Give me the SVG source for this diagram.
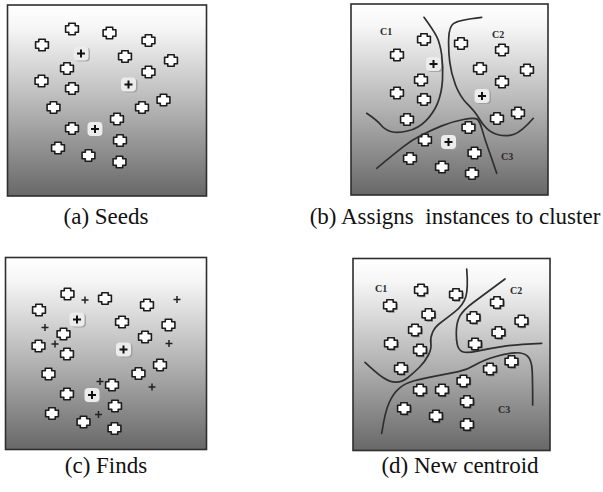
<svg xmlns="http://www.w3.org/2000/svg" xmlns:xlink="http://www.w3.org/1999/xlink" width="603" height="492" viewBox="0 0 603 492">
  <style>
    .frame { stroke: #2e2e2e; stroke-width: 1.6; fill: url(#panelFill); }
    .pt { fill: #ffffff; stroke: #1c1c1c; stroke-width: 1.6; stroke-linejoin: round; }
    .shadow { fill: #3a3a3a; stroke: none; opacity: 0.55; }
    .cross { stroke: #111; stroke-width: 2; stroke-linecap: butt; }
    .mini { stroke: #222; stroke-width: 1.5; }
    .cbox { fill: #ececec; stroke: none; }
    .cshadow { fill: #9a9a9a; stroke: none; opacity: 0.8; }
    .boundary { fill: none; stroke: #2f2f2f; stroke-width: 1.7; stroke-linecap: round; stroke-linejoin: round; }
    .clabel { font-family: "Liberation Serif", "Times New Roman", serif; font-size: 10px; font-weight: bold; fill: #2a2a2a; }
    .caption { font-family: "Liberation Serif", "Times New Roman", serif; font-size: 23px; fill: #111; text-anchor: middle; white-space: pre; }
  </style>
  <defs>
    <linearGradient id="panelFill" x1="0" y1="0" x2="0" y2="1">
      <stop offset="0" stop-color="#ffffff"/>
      <stop offset="0.12" stop-color="#f6f6f6"/>
      <stop offset="0.55" stop-color="#b2b2b2"/>
      <stop offset="1" stop-color="#686868"/>
    </linearGradient>
    <!-- data instance: small rounded cross -->
    <path id="blob" d="M-3.2,-5.8 H3.2 V-3.2 H6.4 V3.2 H3.2 V5.8 H-3.2 V3.2 H-6.4 V-3.2 H-3.2 Z"/>
    <g id="pt"><use xlink:href="#blob" class="pt"/></g>
    <g id="ptS"><use xlink:href="#blob" class="shadow" x="1.3" y="1.4"/><use xlink:href="#blob" class="pt"/></g>
    <!-- cluster centroid: grey pad with black plus -->
    <g id="cen">
      <rect x="-6" y="-6" width="15" height="14" rx="4" class="cshadow"/>
      <rect x="-7.5" y="-7" width="15" height="14" rx="4" class="cbox"/>
      <path d="M-4,0 H4 M0,-4 V4" class="cross"/>
    </g>
    <!-- candidate position marker -->
    <path id="mini" d="M-3.5,0 H3.5 M0,-3.5 V3.5" class="mini"/>
  </defs>

  <rect width="603" height="492" fill="#ffffff"/>

  <!-- (a) Seeds -->
  <g id="panel-a">
    <rect x="7.5" y="5" width="199" height="191" class="frame"/>
    <use xlink:href="#pt" x="72" y="29"/>
    <use xlink:href="#pt" x="109.5" y="33"/>
    <use xlink:href="#pt" x="42" y="45"/>
    <use xlink:href="#pt" x="148.5" y="40.5"/>
    <use xlink:href="#cen" x="81" y="53.5"/>
    <use xlink:href="#pt" x="125" y="56.5"/>
    <use xlink:href="#pt" x="171" y="60.5"/>
    <use xlink:href="#pt" x="67" y="68.5"/>
    <use xlink:href="#pt" x="148.5" y="72"/>
    <use xlink:href="#pt" x="41.5" y="81"/>
    <use xlink:href="#cen" x="128.5" y="84.5"/>
    <use xlink:href="#pt" x="72" y="88.5"/>
    <use xlink:href="#pt" x="53.5" y="107.5"/>
    <use xlink:href="#pt" x="163.5" y="100"/>
    <use xlink:href="#pt" x="142" y="107.5"/>
    <use xlink:href="#pt" x="117" y="119"/>
    <use xlink:href="#pt" x="72" y="128.5"/>
    <use xlink:href="#cen" x="95" y="129"/>
    <use xlink:href="#pt" x="120" y="140.5"/>
    <use xlink:href="#pt" x="58" y="148"/>
    <use xlink:href="#pt" x="88.5" y="155.5"/>
    <use xlink:href="#pt" x="119.5" y="162"/>
  </g>

  <!-- (b) Assigns instances to cluster -->
  <g id="panel-b">
    <rect x="351" y="4" width="197" height="191" class="frame"/>
    <text x="380" y="35" class="clabel">C1</text>
    <text x="492" y="38" class="clabel">C2</text>
    <text x="501" y="160" class="clabel">C3</text>
    <use xlink:href="#pt" x="424" y="39.5"/>
    <use xlink:href="#pt" x="397" y="55"/>
    <use xlink:href="#pt" x="461" y="43.5"/>
    <use xlink:href="#pt" x="502" y="50"/>
    <use xlink:href="#cen" x="433.5" y="64"/>
    <use xlink:href="#pt" x="480" y="68.5"/>
    <use xlink:href="#pt" x="527" y="70"/>
    <use xlink:href="#pt" x="421" y="80"/>
    <use xlink:href="#pt" x="502" y="82"/>
    <use xlink:href="#pt" x="397" y="93"/>
    <use xlink:href="#pt" x="424" y="99.5"/>
    <use xlink:href="#cen" x="482" y="96"/>
    <use xlink:href="#pt" x="407" y="119.5"/>
    <use xlink:href="#pt" x="497" y="118.5"/>
    <use xlink:href="#pt" x="518" y="113"/>
    <use xlink:href="#pt" x="468.5" y="127.5"/>
    <use xlink:href="#pt" x="425" y="140"/>
    <use xlink:href="#cen" x="448.5" y="142"/>
    <use xlink:href="#pt" x="474.5" y="153"/>
    <use xlink:href="#pt" x="410" y="158.5"/>
    <use xlink:href="#pt" x="442" y="167"/>
    <use xlink:href="#pt" x="472" y="173.5"/>
  </g>

  <!-- (c) Finds -->
  <g id="panel-c">
    <rect x="5.5" y="257.5" width="201" height="192" class="frame"/>
    <use xlink:href="#pt" x="67.5" y="294"/>
    <use xlink:href="#mini" x="85" y="300"/>
    <use xlink:href="#pt" x="105" y="298.5"/>
    <use xlink:href="#pt" x="147" y="305"/>
    <use xlink:href="#mini" x="177" y="299.5"/>
    <use xlink:href="#pt" x="39" y="310"/>
    <use xlink:href="#cen" x="77" y="319.5"/>
    <use xlink:href="#pt" x="122" y="322"/>
    <use xlink:href="#pt" x="168.5" y="325"/>
    <use xlink:href="#mini" x="45" y="327.5"/>
    <use xlink:href="#pt" x="63.5" y="334"/>
    <use xlink:href="#pt" x="145" y="337"/>
    <use xlink:href="#mini" x="169" y="343.5"/>
    <use xlink:href="#pt" x="38.5" y="346"/>
    <use xlink:href="#mini" x="55" y="344"/>
    <use xlink:href="#pt" x="67" y="354"/>
    <use xlink:href="#cen" x="123.5" y="349.5"/>
    <use xlink:href="#pt" x="160" y="365"/>
    <use xlink:href="#pt" x="138.5" y="373.5"/>
    <use xlink:href="#pt" x="48.5" y="374"/>
    <use xlink:href="#mini" x="100" y="381.5"/>
    <use xlink:href="#pt" x="112" y="385"/>
    <use xlink:href="#mini" x="152" y="387"/>
    <use xlink:href="#pt" x="67" y="394"/>
    <use xlink:href="#cen" x="92" y="395"/>
    <use xlink:href="#pt" x="115" y="406"/>
    <use xlink:href="#pt" x="52" y="413.5"/>
    <use xlink:href="#pt" x="83.5" y="422"/>
    <use xlink:href="#mini" x="98.5" y="414.5"/>
    <use xlink:href="#pt" x="114.5" y="428.5"/>
  </g>

  <!-- (d) New centroid -->
  <g id="panel-d">
    <rect x="353" y="258.5" width="197" height="192" class="frame"/>
    <text x="375" y="292" class="clabel">C1</text>
    <text x="510" y="294" class="clabel">C2</text>
    <text x="498" y="413" class="clabel">C3</text>
    <use xlink:href="#ptS" x="421" y="290"/>
    <use xlink:href="#ptS" x="456" y="294.5"/>
    <use xlink:href="#ptS" x="390" y="305.5"/>
    <use xlink:href="#ptS" x="497" y="302.5"/>
    <use xlink:href="#ptS" x="428.5" y="314.5"/>
    <use xlink:href="#ptS" x="473.5" y="317.5"/>
    <use xlink:href="#ptS" x="521.5" y="321"/>
    <use xlink:href="#ptS" x="415" y="330"/>
    <use xlink:href="#ptS" x="498.5" y="332.5"/>
    <use xlink:href="#ptS" x="391" y="343.5"/>
    <use xlink:href="#ptS" x="420" y="350"/>
    <use xlink:href="#ptS" x="475" y="344"/>
    <use xlink:href="#ptS" x="511.5" y="361.5"/>
    <use xlink:href="#ptS" x="490" y="369"/>
    <use xlink:href="#ptS" x="401" y="368.5"/>
    <use xlink:href="#ptS" x="463.5" y="381"/>
    <use xlink:href="#ptS" x="420" y="390"/>
    <use xlink:href="#ptS" x="442" y="390"/>
    <use xlink:href="#ptS" x="467" y="401.5"/>
    <use xlink:href="#ptS" x="404" y="408.5"/>
    <use xlink:href="#ptS" x="436" y="416"/>
    <use xlink:href="#ptS" x="467" y="424.5"/>
  </g>

  <!-- cluster boundary curves -->
  <g id="connectors">
    <path class="boundary" d="M366.7,113.3 Q376.7,120 380.9,125 Q385,130 391.7,131.7 Q398.3,133.3 408.3,130.8 Q418.3,128.3 425.8,120.8 Q433.3,113.3 437.5,103.3 Q441.7,93.3 442.5,80 Q443.3,66.7 441.7,55 Q440,43.3 436.7,36.7 Q433.3,30 424,17.3"/>
    <path class="boundary" d="M481.7,17.3 Q458.3,20 453.7,23.4 Q449,26.7 448.7,38.4 Q448.3,50 449.7,61.7 Q451,73.3 455.5,85 Q460,96.7 467.5,104.2 Q475,111.7 478.4,117.5 Q481.7,123.3 486.7,128.3 Q491.7,133.3 499.2,135 Q506.7,136.7 514.2,134.2 Q521.7,131.7 533.3,118.3"/>
    <path class="boundary" d="M376.7,168.3 Q395,153.3 403.4,146.7 Q411.7,140 421.7,135 Q431.7,130 441.7,125.9 Q451.7,121.7 463.4,119.5 Q475,117.3 477.5,119.5 Q480,121.7 482.5,130.9 Q485,140 488.4,149.2 Q491.7,158.3 496.7,173.3"/>
    <path class="boundary" d="M365,362.3 Q376.7,373.3 383.4,377.8 Q390,382.3 396,382.2 Q402,382 407.7,377.7 Q413.3,373.3 419.2,367.5 Q425,361.7 428.4,355 Q431.7,348.3 430.9,343.3 Q430,338.3 432.5,332.5 Q435,326.7 440.9,322.5 Q446.7,318.3 455,311.7 Q463.3,305 465.8,296.7 Q468.3,288.3 466.7,269"/>
    <path class="boundary" d="M505,279 Q483.3,295 473.3,302.5 Q463.3,310 460,315.9 Q456.7,321.7 456.4,330 Q456,338.3 457.2,344.2 Q458.3,350 462.5,351.7 Q466.7,353.3 478.4,350.8 Q490,348.3 503.4,346.3 Q516.7,344.3 541.7,343.3"/>
    <path class="boundary" d="M381.7,433.3 Q385,411.7 389.2,402.5 Q393.3,393.3 399.2,388.3 Q405,383.3 414.2,380.8 Q423.3,378.3 436.7,375.8 Q450,373.3 458.4,371.7 Q466.7,370 475,365 Q483.3,360 495,356.7 Q506.7,353.3 515,352.8 Q523.3,352.3 527.5,356.2 Q531.7,360 532.2,370.9 Q532.7,381.7 532.7,405"/>
  </g>

  <!-- captions -->
  <g id="captions">
    <text x="106" y="224" class="caption">(a) Seeds</text>
    <text x="455" y="224" class="caption">(b) Assigns  instances to cluster</text>
    <text x="106" y="473" class="caption">(c) Finds</text>
    <text x="460" y="473" class="caption">(d) New centroid</text>
  </g>
</svg>
